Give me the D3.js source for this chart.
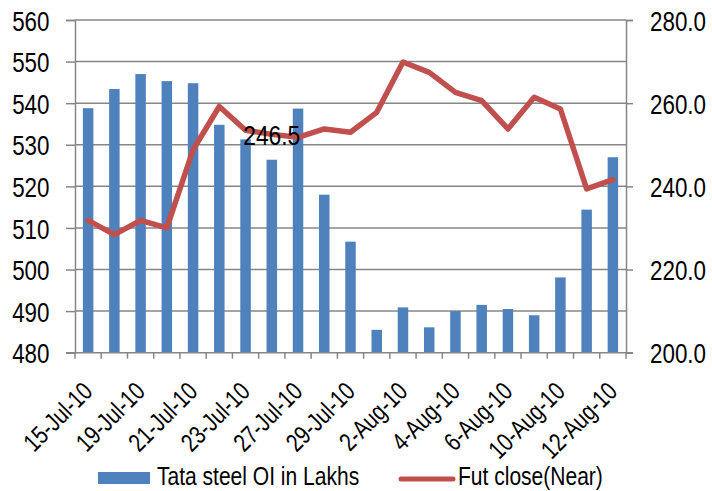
<!DOCTYPE html>
<html>
<head>
<meta charset="utf-8">
<script src="https://cdn.jsdelivr.net/npm/d3@7"></script>
<style>
  html, body { margin: 0; padding: 0; background: #ffffff; }
  svg { display: block; }
</style>
</head>
<body>
<svg id="chart" width="712" height="491"></svg>
<script>
const categories = ["15-Jul-10","16-Jul-10","19-Jul-10","20-Jul-10","21-Jul-10","22-Jul-10","23-Jul-10",
  "26-Jul-10","27-Jul-10","28-Jul-10","29-Jul-10","30-Jul-10","2-Aug-10","3-Aug-10","4-Aug-10",
  "5-Aug-10","6-Aug-10","9-Aug-10","10-Aug-10","11-Aug-10","12-Aug-10"];
const shownLabels = ["15-Jul-10","19-Jul-10","21-Jul-10","23-Jul-10","27-Jul-10","29-Jul-10",
  "2-Aug-10","4-Aug-10","6-Aug-10","10-Aug-10","12-Aug-10"];
const oiValues = [538.8,543.4,547.0,545.3,544.8,534.8,531.3,526.4,538.7,518.0,506.7,
  485.5,490.9,486.1,490.0,491.5,490.5,489.0,498.1,514.4,527.0];
const futClose = [231.8,228.4,231.8,230.0,248.8,259.2,253.5,252.5,251.8,253.8,253.0,
  257.8,269.9,267.4,262.6,260.6,253.8,261.4,258.6,239.4,241.6];
const leftTicks = [480,490,500,510,520,530,540,550,560];
const rightTicks = [200,220,240,260,280];
const dataLabel = {index: 7, text: "246.5"};
const seriesNames = ["Tata steel OI in Lakhs", "Fut close(Near)"];

const svg = d3.select("#chart");
const plot = {left: 75, right: 626, top: 20, bottom: 352.7};
const gridColor = "#868686";
const barColor = "#4F81BD";
const lineColor = "#C0504D";
const font = "'Liberation Sans', Arial, sans-serif";
const squeeze = 0.8;

const x = d3.scaleBand().domain(categories).range([plot.left, plot.right]).paddingInner(0).paddingOuter(0);
const yL = d3.scaleLinear().domain([480, 560]).range([plot.bottom, plot.top]);
const yR = d3.scaleLinear().domain([200, 280]).range([plot.bottom, plot.top]);

// gridlines
svg.append("g").selectAll("line").data(leftTicks.slice(1)).join("line")
  .attr("x1", plot.left).attr("x2", plot.right)
  .attr("y1", d => yL(d)).attr("y2", d => yL(d))
  .attr("stroke", gridColor).attr("stroke-width", 1.5);

// bars
const barW = x.bandwidth() * 0.4;
svg.append("g").selectAll("rect").data(oiValues).join("rect")
  .attr("x", (d, i) => x(categories[i]) + x.bandwidth() / 2 - barW / 2)
  .attr("width", barW)
  .attr("y", d => yL(d))
  .attr("height", d => yL(480) - yL(d))
  .attr("fill", barColor);

// left axis
const leftAxis = d3.axisLeft(yL).tickValues(leftTicks).tickSize(9).tickFormat(d3.format("d"));
const gL = svg.append("g").attr("transform", `translate(${plot.left},0)`).call(leftAxis);
gL.select(".domain").attr("stroke", gridColor).attr("stroke-width", 1.5);
gL.selectAll(".tick line").attr("stroke", gridColor).attr("stroke-width", 1.5);
gL.selectAll(".tick text").attr("x", null).attr("dy", "0.36em")
  .attr("transform", `translate(-25.5,0) scale(${squeeze},1)`)
  .attr("font-family", font).attr("font-size", 28).attr("fill", "#000");

// right axis
const rightAxis = d3.axisRight(yR).tickValues(rightTicks).tickSize(7).tickFormat(d3.format(".1f"));
const gR = svg.append("g").attr("transform", `translate(${plot.right},0)`).call(rightAxis);
gR.select(".domain").attr("stroke", gridColor).attr("stroke-width", 1.5);
gR.selectAll(".tick line").attr("stroke", gridColor).attr("stroke-width", 1.5);
gR.selectAll(".tick text").attr("x", null).attr("dy", "0.36em")
  .attr("transform", `translate(24,0) scale(${squeeze},1)`)
  .attr("font-family", font).attr("font-size", 28).attr("fill", "#000");

// bottom axis line and ticks at category boundaries
svg.append("line").attr("x1", plot.left - 9).attr("x2", plot.right + 7)
  .attr("y1", plot.bottom).attr("y2", plot.bottom)
  .attr("stroke", gridColor).attr("stroke-width", 1.5);
const bounds = categories.map(c => x(c)).concat([x(categories[categories.length - 1]) + x.bandwidth()]);
svg.append("g").selectAll("line").data(bounds).join("line")
  .attr("x1", d => d).attr("x2", d => d)
  .attr("y1", plot.bottom).attr("y2", plot.bottom + 6)
  .attr("stroke", gridColor).attr("stroke-width", 1.5);

// x labels
svg.append("g").selectAll("text").data(shownLabels).join("text")
  .attr("transform", d => `translate(${x(d) + x.bandwidth() / 2 + 6},${393}) rotate(-45) scale(${squeeze},1)`)
  .attr("text-anchor", "end")
  .attr("font-family", font).attr("font-size", 25.5).attr("fill", "#000")
  .text(d => d);

// line
const line = d3.line()
  .x((d, i) => x(categories[i]) + x.bandwidth() / 2)
  .y(d => yR(d));
svg.append("path").datum(futClose)
  .attr("d", line)
  .attr("fill", "none").attr("stroke", lineColor).attr("stroke-width", 5.5)
  .attr("stroke-linejoin", "round").attr("stroke-linecap", "round");

// data label
svg.append("text")
  .attr("transform", `translate(${x(categories[dataLabel.index]) + x.bandwidth() / 2},${yR(futClose[dataLabel.index])}) scale(${squeeze},1)`)
  .attr("dy", "0.36em")
  .attr("text-anchor", "middle")
  .attr("font-family", font).attr("font-size", 28.5).attr("fill", "#000")
  .text(dataLabel.text);

// legend
const lg = svg.append("g");
lg.append("rect").attr("x", 98).attr("y", 472).attr("width", 52).attr("height", 12).attr("fill", barColor);
lg.append("text").attr("transform", `translate(157,485) scale(${squeeze},1)`)
  .attr("font-family", font).attr("font-size", 26.3).attr("fill", "#000").text(seriesNames[0]);
lg.append("line").attr("x1", 401).attr("x2", 453).attr("y1", 479).attr("y2", 479)
  .attr("stroke", lineColor).attr("stroke-width", 5).attr("stroke-linecap", "round");
lg.append("text").attr("transform", `translate(458,485) scale(${squeeze},1)`)
  .attr("font-family", font).attr("font-size", 26.3).attr("fill", "#000").text(seriesNames[1]);
</script>
</body>
</html>
